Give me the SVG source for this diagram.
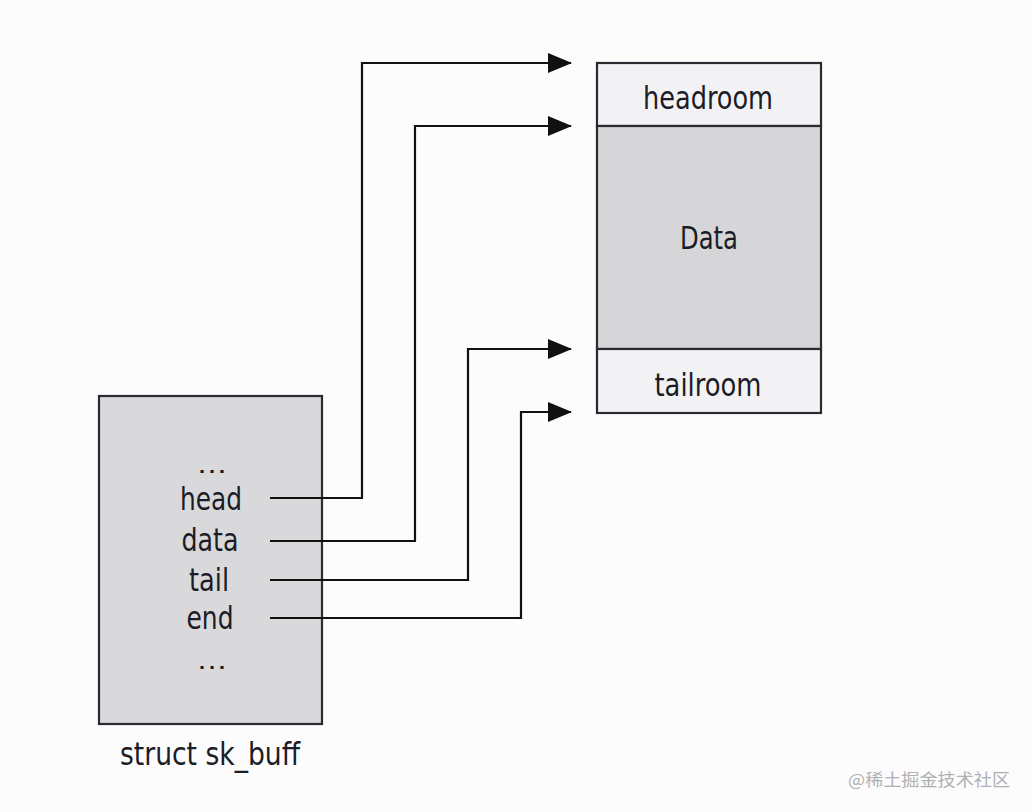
<svg xmlns="http://www.w3.org/2000/svg" width="1032" height="812" viewBox="0 0 1032 812">
<style>
.lbl{font-family:"DejaVu Sans Condensed","Open Sans","Liberation Sans",sans-serif;font-size:32px;fill:#1c1c26;text-anchor:middle}
.dots{font-size:24px}
.box{stroke:#2a2a30;stroke-width:2.2}
.conn{fill:none;stroke:#111;stroke-width:2.2}
.wm{font-family:"Noto Sans CJK SC","Noto Sans",sans-serif;font-size:17px;fill:#b0b0b4}
</style>
<defs>
<marker id="arr" viewBox="0 0 24 20" refX="23" refY="10" markerWidth="24" markerHeight="20" markerUnits="userSpaceOnUse" orient="auto">
<path d="M0,0 L24,10 L0,20 Z" fill="#111"/>
</marker>
</defs>
<rect width="1032" height="812" fill="#fcfcfd"/>
<g id="sk_buff">
<rect class="box" x="99" y="396" width="223" height="328" fill="#d9d9db"/>
<text class="lbl dots" x="212" y="473" textLength="30" lengthAdjust="spacingAndGlyphs">…</text>
<text class="lbl" x="211" y="510" textLength="62" lengthAdjust="spacingAndGlyphs">head</text>
<text class="lbl" x="210" y="551" textLength="57" lengthAdjust="spacingAndGlyphs">data</text>
<text class="lbl" x="209" y="591" textLength="40" lengthAdjust="spacingAndGlyphs">tail</text>
<text class="lbl" x="210" y="629" textLength="47" lengthAdjust="spacingAndGlyphs">end</text>
<text class="lbl dots" x="212" y="669" textLength="30" lengthAdjust="spacingAndGlyphs">…</text>
<text class="lbl" x="210" y="765" textLength="180" lengthAdjust="spacingAndGlyphs">struct sk_buff</text>
</g>
<g id="buffer">
<g id="headroom">
<rect class="box" x="597" y="63" width="224" height="63" fill="#f2f2f4"/>
<text class="lbl" x="708" y="109" textLength="130" lengthAdjust="spacingAndGlyphs">headroom</text>
</g>
<g id="data">
<rect class="box" x="597" y="126" width="224" height="223" fill="#d6d6d8"/>
<text class="lbl" x="709" y="249" textLength="58" lengthAdjust="spacingAndGlyphs">Data</text>
</g>
<g id="tailroom">
<rect class="box" x="597" y="349" width="224" height="64" fill="#f2f2f4"/>
<text class="lbl" x="708" y="396" textLength="107" lengthAdjust="spacingAndGlyphs">tailroom</text>
</g>
</g>
<g id="connectors">
<polyline class="conn" points="270,498 362,498 362,63 571,63" marker-end="url(#arr)"/>
<polyline class="conn" points="270,541 415,541 415,126 571,126" marker-end="url(#arr)"/>
<polyline class="conn" points="270,580 468,580 468,349 571,349" marker-end="url(#arr)"/>
<polyline class="conn" points="270,618 521,618 521,412 571,412" marker-end="url(#arr)"/>
</g>
<text class="wm" x="848" y="786" textLength="162" lengthAdjust="spacingAndGlyphs">@稀土掘金技术社区</text>
</svg>
